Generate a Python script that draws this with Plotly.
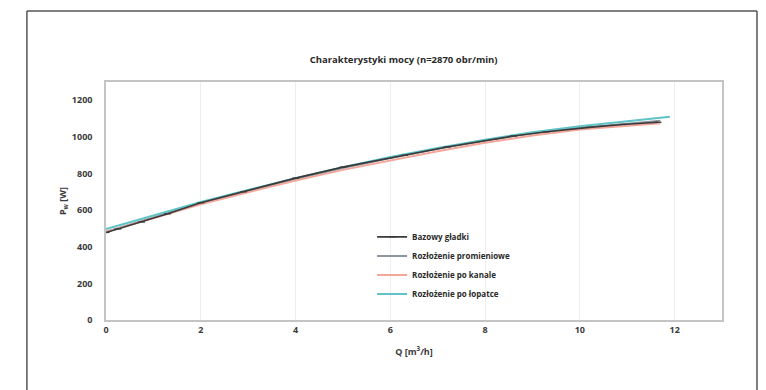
import plotly.graph_objects as go

# Pump power curves P_w(Q) at n = 2870 rpm for four surface variants
q_bazowy = [0, 0.25, 0.75, 1.3, 2.0, 2.9, 4.0, 5.0, 6.3, 7.2, 8.6, 9.3, 10.2, 10.9, 11.65]
p_bazowy = [478, 497, 535, 580, 640, 700, 775, 835, 900, 945, 1005, 1028, 1052, 1068, 1080]

q_prom = [0, 1, 2, 3, 4, 5, 6, 7, 8, 9, 10, 11, 11.7]
p_prom = [482, 560, 638, 705, 770, 830, 885, 935, 980, 1020, 1050, 1072, 1088]

q_kanal = [0, 1, 2, 3, 4, 5, 6, 7, 8, 9, 10, 11, 11.7]
p_kanal = [480, 556, 632, 698, 762, 820, 873, 922, 968, 1008, 1040, 1062, 1075]

q_lopatka = [0, 1, 2, 3, 4, 5, 6, 7, 8, 9, 10, 11, 11.9]
p_lopatka = [497, 570, 645, 710, 775, 835, 890, 940, 985, 1025, 1058, 1085, 1110]

series_names = ["Bazowy gładki", "Rozłożenie promieniowe", "Rozłożenie po kanale", "Rozłożenie po łopatce"]
series_colors = ["#3a3a3a", "#8c96a0", "#f4a69a", "#5fc3c8"]

x_ticks = [0, 2, 4, 6, 8, 10, 12]
y_ticks = [0, 200, 400, 600, 800, 1000, 1200]

font_family = "Open Sans, Liberation Sans, sans-serif"

fig = go.Figure()

# Coloured variants first so the base curve is drawn on top of them
for rank, (q, p, name, color) in enumerate([
    (q_prom, p_prom, series_names[1], series_colors[1]),
    (q_kanal, p_kanal, series_names[2], series_colors[2]),
    (q_lopatka, p_lopatka, series_names[3], series_colors[3]),
], start=2):
    fig.add_trace(go.Scatter(x=q, y=p, mode="lines", name=f"<b>{name}</b>",
                             legendrank=rank,
                             line=dict(color=color, width=2)))

fig.add_trace(go.Scatter(
    x=q_bazowy, y=p_bazowy, mode="lines+markers", name=f"<b>{series_names[0]}</b>",
    legendrank=1,
    line=dict(color=series_colors[0], width=1.6),
    marker=dict(symbol="line-ew-open", size=5, color=series_colors[0],
                line=dict(width=1.2, color=series_colors[0])),
))

axis_font = dict(family=font_family, size=9, color="#3a3a3a")

fig.update_layout(
    width=766, height=390,
    margin=dict(l=106, r=44, t=82, b=70),
    paper_bgcolor="white", plot_bgcolor="white",
    title=dict(text="<b>Charakterystyki mocy (n=2870 obr/min)</b>",
               x=0.527, xanchor="center", y=0.846, yanchor="middle",
               font=dict(family=font_family, size=9.5, color="#2a2a2a")),
    xaxis=dict(range=[0, 13], tickvals=x_ticks, ticktext=[f"<b>{v}</b>" for v in x_ticks],
               showgrid=True, gridcolor="#eeeeee", gridwidth=1,
               showline=True, linecolor="#c4c4c4", linewidth=1.5, mirror=True,
               ticks="", zeroline=False, tickfont=axis_font,
               title=dict(text="<b>Q [m<sup>3</sup>/h]</b>", font=axis_font, standoff=14)),
    yaxis=dict(range=[0, 1300], tickvals=y_ticks, ticktext=[f"<b>{v}</b>" for v in y_ticks],
               showgrid=False,
               showline=True, linecolor="#c4c4c4", linewidth=1.5, mirror=True,
               ticks="", zeroline=False, tickfont=axis_font, ticklabelstandoff=10,
               title=dict(text="<b>P<sub>w</sub> [W]</b>", font=axis_font, standoff=4)),
    legend=dict(x=0.432, y=0.41, xanchor="left", yanchor="top",
                bgcolor="rgba(255,255,255,0)", itemwidth=30, tracegroupgap=0,
                font=dict(family=font_family, size=8, color="#2a2a2a")),
    showlegend=True,
)

# Outer frame around the figure (top, left and right edges)
frame = dict(color="#555555", width=1.5)
fig.add_shape(type="line", xref="paper", yref="paper", x0=-0.1284, x1=1.0568, y0=1.2988, y1=1.2988, line=frame)
fig.add_shape(type="line", xref="paper", yref="paper", x0=-0.1284, x1=-0.1284, y0=-0.30, y1=1.2988, line=frame)
fig.add_shape(type="line", xref="paper", yref="paper", x0=1.0568, x1=1.0568, y0=-0.30, y1=1.2988, line=frame)

fig.write_html("out.html")
